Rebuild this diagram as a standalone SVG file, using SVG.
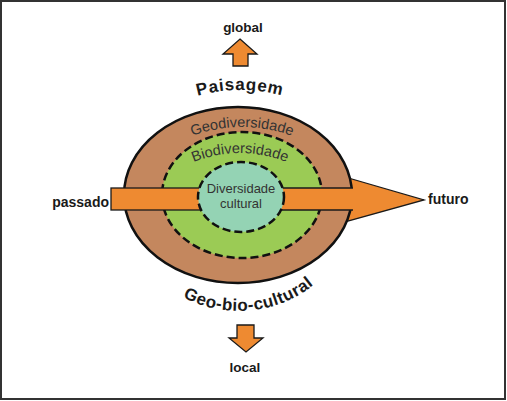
<svg xmlns="http://www.w3.org/2000/svg" width="507" height="401" viewBox="0 0 507 401">
<style>
.lbl{font-family:"Liberation Sans",Arial,sans-serif;font-weight:bold;fill:#1a1a1a}
.ring{font-family:"Liberation Sans",Arial,sans-serif;fill:#333;font-size:14.5px}
.arr{fill:#EE8A31;stroke:#1a1a1a;stroke-width:1.3;stroke-linejoin:miter}
.dash{stroke:#111;stroke-width:2.5;stroke-dasharray:8 4}
</style>
<defs>
<path id="pPais" d="M 83,247 A 157 157 0 0 1 397,247"/>
<path id="pGeo" d="M 99,270 A 143 143 0 0 1 385,270"/>
<path id="pBio" d="M 118,275 A 122 122 0 0 1 362,275"/>
<path id="pGbc" d="M 119,191 A 120 120 0 0 0 359,191"/>
</defs>
<rect x="1" y="1" width="504" height="398" fill="#fff" stroke="#333" stroke-width="2"/>

<g id="connectors">
<polygon id="arrow-global" class="arr" points="240,39 257,54 248,54 248,66 233,66 233,54 223,54"/>
<polygon id="arrow-local" class="arr" points="237,325 254,325 254,338 263,338 246,352 229,338 237,338"/>
<polygon id="arrow-futuro-head" class="arr" points="345,177 424,200 345,222"/>
</g>

<g id="geodiversidade">
<ellipse cx="238" cy="195" rx="114" ry="88" fill="#C4875E" stroke="#111" stroke-width="2.5"/>
</g>
<g id="biodiversidade">
<ellipse class="dash" cx="242" cy="195" rx="80" ry="63" fill="#9BCB55"/>
</g>

<g id="time-arrow">
<rect class="arr" x="111" y="188" width="100" height="22"/>
<rect x="270" y="188" width="85" height="22" fill="#EE8A31"/>
<path d="M270,188 H353 M270,210 H353" stroke="#1a1a1a" stroke-width="1.3" fill="none"/>
</g>

<g id="diversidade-cultural">
<ellipse class="dash" cx="241" cy="197" rx="43" ry="35" fill="#94D3B4"/>
<text class="ring" text-anchor="middle" x="241" y="193" style="font-size:13px">Diversidade</text>
<text class="ring" text-anchor="middle" x="241" y="208" style="font-size:13px">cultural</text>
</g>

<g id="labels">
<text class="ring"><textPath href="#pGeo" startOffset="50%" text-anchor="middle">Geodiversidade</textPath></text>
<text class="ring"><textPath href="#pBio" startOffset="50%" text-anchor="middle">Biodiversidade</textPath></text>
<text class="lbl" font-size="17" letter-spacing="0.8"><textPath href="#pPais" startOffset="50%" text-anchor="middle">Paisagem</textPath></text>
<text class="lbl" font-size="17" letter-spacing="0.5"><textPath href="#pGbc" startOffset="53%" text-anchor="middle">Geo-bio-cultural</textPath></text>
<text class="lbl" font-size="13.5" x="243" y="32" text-anchor="middle">global</text>
<text class="lbl" font-size="13.5" x="245" y="372" text-anchor="middle">local</text>
<text class="lbl" font-size="14" x="109" y="207" text-anchor="end">passado</text>
<text class="lbl" font-size="14" x="428" y="204">futuro</text>
</g>
</svg>
